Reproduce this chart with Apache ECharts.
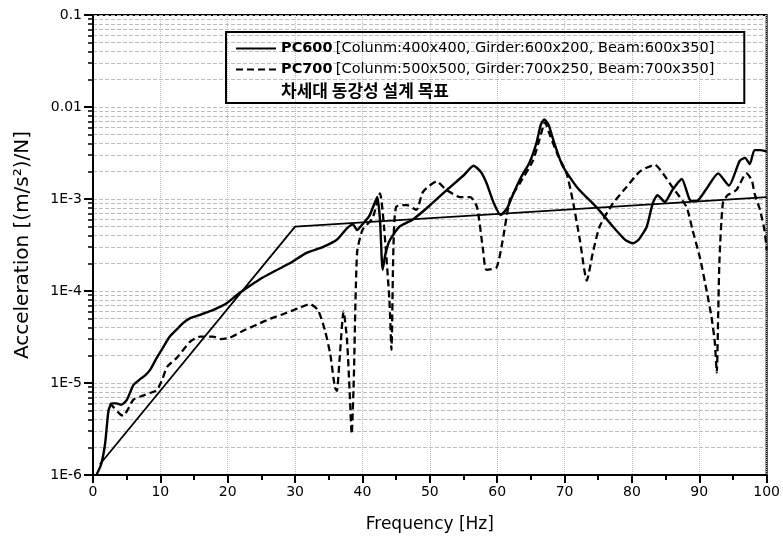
<!DOCTYPE html>
<html><head><meta charset="utf-8">
<script src="https://cdn.jsdelivr.net/npm/echarts@6/dist/echarts.min.js"></script>
<style>html,body{margin:0;padding:0;background:#fff}#c{width:783px;height:542px}</style>
</head><body><div id="c"></div>
<script>
// ---- data ----
const seriesNames = ['PC600', 'PC700', '차세대 동강성 설계 목표'];
const legendDetails = ['[Colunm:400x400, Girder:600x200, Beam:600x350]', '[Colunm:500x500, Girder:700x250, Beam:700x350]', ''];
const yTickLabels = ['1E-6', '1E-5', '1E-4', '1E-3', '0.01', '0.1'];
const xTickLabels = ['0','10','20','30','40','50','60','70','80','90','100'];

const pc600 = [
  [0.5,1.0e-6],[1.2,1.3e-6],[1.8,2.2e-6],[2.3,5.0e-6],[2.8,6.0e-6],[3.5,6.0e-6],[4.2,5.8e-6],[5,6.5e-6],
  [6,9.5e-6],[7,1.1e-5],[7.7,1.2e-5],[8.5,1.4e-5],[9.5,1.9e-5],[10.5,2.5e-5],[11.4,3.2e-5],[12.4,3.8e-5],
  [13.4,4.5e-5],[14.5,5.1e-5],[15.9,5.5e-5],[17,5.9e-5],[17.8,6.2e-5],[19,6.8e-5],[19.9,7.4e-5],[21,8.6e-5],
  [22,9.8e-5],[23.3,1.14e-4],[25.2,1.4e-4],[27,1.65e-4],[29.2,2.0e-4],[31.7,2.6e-4],[34.1,3.0e-4],
  [36.2,3.6e-4],[37.7,4.8e-4],[38.6,5.3e-4],[39.2,4.6e-4],[40,5.3e-4],[41,6.5e-4],[41.8,9e-4],[42.2,1.05e-3],
  [42.6,6e-4],[43,1.7e-4],[43.4,2.5e-4],[44,3.5e-4],[45.5,5e-4],[47.5,6e-4],[50,8.5e-4],[52.5,1.25e-3],
  [55,1.8e-3],[56.5,2.3e-3],[57.5,2.0e-3],[58.4,1.5e-3],[59.5,9e-4],[60.5,6.7e-4],[61.5,8e-4],[62.3,1.1e-3],
  [63.5,1.7e-3],[64.8,2.5e-3],[65.8,4e-3],[66.5,6.5e-3],[67,7.3e-3],[67.6,6.5e-3],[68.5,4e-3],[69.7,2.3e-3],
  [72,1.3e-3],[74.7,8.2e-4],[77.2,5e-4],[79,3.6e-4],[80.1,3.3e-4],[81,3.6e-4],[82.2,5e-4],[83.1,9e-4],
  [83.8,1.1e-3],[84.9,9.3e-4],[86,1.25e-3],[87.4,1.65e-3],[88.6,9.8e-4],[89.6,9.5e-4],[91.1,1.3e-3],
  [92.8,1.9e-3],[94.4,1.4e-3],[96,2.6e-3],[96.8,2.8e-3],[97.5,2.4e-3],[98.2,3.4e-3],[99,3.4e-3],[100,3.3e-3]
];
const pc700 = [
  [2.5,6.0e-6],[3,5.5e-6],[4,4.6e-6],[4.5,4.4e-6],[5.2,5.2e-6],[6,6.6e-6],[7.4,7.3e-6],[8.5,7.8e-6],
  [9.5,8.4e-6],[10.3,1.1e-5],[11,1.5e-5],[12.5,1.9e-5],[14.4,2.8e-5],[15.9,3.2e-5],[17.8,3.2e-5],[19,3.0e-5],
  [20.3,3.1e-5],[22.3,3.7e-5],[24.3,4.3e-5],[26.3,5.0e-5],[28.8,5.8e-5],[30.7,6.6e-5],[32.2,7.2e-5],
  [33.4,6.2e-5],[34.4,3.8e-5],[35.2,2.1e-5],[35.9,9e-6],[36.2,8.2e-6],[36.6,1.8e-5],[37.2,6e-5],[37.7,3e-5],
  [38.1,8e-6],[38.4,2.8e-6],[38.7,1e-5],[39.2,2.6e-4],[40,4.6e-4],[41.5,6.2e-4],[42.6,1.15e-3],[43.2,5e-4],
  [44,8e-5],[44.3,2.3e-5],[44.6,3e-4],[45,8.2e-4],[46.6,8.6e-4],[48,7.6e-4],[49,1.2e-3],[51,1.55e-3],
  [52.5,1.25e-3],[54.5,1.05e-3],[56,1.05e-3],[57,8.2e-4],[57.9,2.8e-4],[58.4,1.7e-4],[59.9,1.8e-4],
  [60.8,3.5e-4],[61.9,9.8e-4],[63.4,1.5e-3],[65.3,2.6e-3],[66.3,4.5e-3],[67.1,6.8e-3],[67.8,5e-3],[69,3e-3],
  [70.3,1.9e-3],[71.2,9.8e-4],[72.3,3.5e-4],[73.3,1.3e-4],[74.2,2.6e-4],[75.2,5e-4],[77.2,9e-4],[79.2,1.35e-3],
  [81.2,2e-3],[83.4,2.35e-3],[84.6,1.9e-3],[86,1.35e-3],[88.1,8.2e-4],[89,4.6e-4],[90.1,2.3e-4],[91.1,1e-4],
  [91.8,5.3e-5],[92.3,2.8e-5],[92.6,1.3e-5],[92.8,5.3e-5],[93,2.2e-4],[93.5,9e-4],[94.2,1.1e-3],[95.5,1.25e-3],
  [97,1.9e-3],[97.8,1.6e-3],[98.2,1.15e-3],[99,7.7e-4],[99.7,4.5e-4],[100,2.8e-4]
];
const target = [[1,1.3e-6],[30,5e-4],[100,1.05e-3]];

// ---- chart ----
const FONT = '"DejaVu Sans", sans-serif';
const chart = echarts.init(document.getElementById('c'), null, {renderer: 'canvas'});
const grey = '#bdbdbd';
const legendRich = {
  b: {fontFamily: FONT, fontWeight: 'bold', fontSize: 14.5, color: '#000'},
  n: {fontFamily: FONT, fontSize: 14.5, color: '#000'},
  k: {fontFamily: '"Noto Sans CJK KR", sans-serif', fontWeight: 'bold', fontSize: 17, color: '#000'}
};
chart.setOption({
  animation: false,
  backgroundColor: '#fff',
  grid: {left: 93, right: 16, top: 15, bottom: 67, show: true, borderColor: '#000', borderWidth: 2, backgroundColor: 'transparent'},
  legend: {
    orient: 'vertical', left: 226, top: 32,
    borderColor: '#000', borderWidth: 2, padding: [8, 30, 4, 9],
    itemGap: 4, itemWidth: 40, itemHeight: 14,
    itemStyle: {opacity: 0},
    data: [{name: seriesNames[0]}, {name: seriesNames[1]}, {name: seriesNames[2], icon: 'none'}],
    formatter: function (name) {
      const i = seriesNames.indexOf(name);
      if (i === 2) return '{k|' + name + '}';
      return '{b|' + name + '} {n|' + legendDetails[i] + '}';
    },
    textStyle: {rich: legendRich, lineHeight: 17}
  },
  xAxis: {
    type: 'value', min: 0, max: 100, interval: 10,
    name: 'Frequency [Hz]', nameLocation: 'middle', nameGap: 41,
    nameTextStyle: {fontFamily: FONT, fontSize: 17, color: '#000'},
    axisLine: {lineStyle: {color: '#000', width: 2}},
    axisTick: {length: 8, lineStyle: {color: '#000', width: 2}},
    minorTick: {show: true, splitNumber: 2, length: 5, lineStyle: {color: '#000', width: 2}},
    splitLine: {show: true, lineStyle: {color: grey, type: 'dotted', width: 1}},
    axisLabel: {fontFamily: FONT, fontSize: 14, color: '#000', margin: 10,
      formatter: function (v) { return xTickLabels[Math.round(v / 10)]; }}
  },
  yAxis: {
    type: 'log', logBase: 10, min: 1e-6, max: 0.1,
    name: 'Acceleration [(m/s²)/N]', nameLocation: 'middle', nameGap: 60, nameRotate: 90,
    nameTextStyle: {fontFamily: FONT, fontSize: 20, color: '#000'},
    axisLine: {lineStyle: {color: '#000', width: 2}},
    axisTick: {length: 9, lineStyle: {color: '#000', width: 2}},
    minorTick: {show: true, splitNumber: 9, length: 5, lineStyle: {color: '#000', width: 1.5}},
    splitLine: {show: true, lineStyle: {color: grey, type: 'dashed', width: 1}},
    minorSplitLine: {show: true, lineStyle: {color: grey, type: 'dashed', width: 1}},
    axisLabel: {fontFamily: FONT, fontSize: 14, color: '#000', margin: 11,
      formatter: function (v) { return yTickLabels[Math.round(Math.log10(v)) + 6]; }}
  },
  series: [
    {name: seriesNames[0], type: 'line', data: pc600, symbol: 'none', smooth: 0.2,
      lineStyle: {color: '#000', width: 2.4}, itemStyle: {color: '#000'}, z: 3},
    {name: seriesNames[1], type: 'line', data: pc700, symbol: 'none', smooth: 0.2,
      lineStyle: {color: '#000', width: 2.3, type: [7, 4]}, itemStyle: {color: '#000'}, z: 2},
    {name: seriesNames[2], type: 'line', data: target, symbol: 'none',
      lineStyle: {color: '#000', width: 1.8}, itemStyle: {color: '#000'}, z: 4}
  ]
});
</script>
</body></html>
